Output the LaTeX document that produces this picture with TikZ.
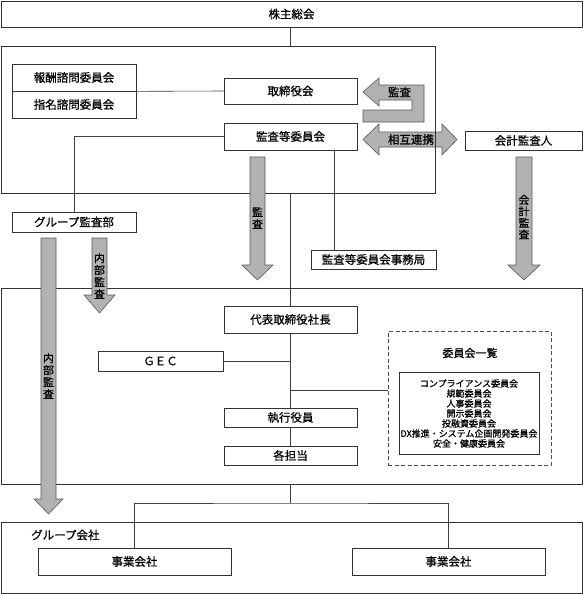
\documentclass[tikz,border=0pt]{standalone}
\usepackage{fontspec}
\setmainfont{Noto Sans CJK JP}[FakeBold=0.7]
\begin{document}
\begin{tikzpicture}[x=1pt,y=-1pt,
  box/.style={draw=black!80, line width=0.7pt, fill=white, inner sep=0pt, font=\fontsize{11.5}{13}\selectfont},
  frame/.style={draw=black!80, line width=0.7pt, inner sep=0pt},
  conn/.style={draw=black!75, line width=0.6pt},
  blk/.style={fill=black!30, draw=black!65, line width=0.6pt},
  vlab/.style={font=\fontsize{11}{12}\selectfont, align=center, inner sep=0pt},
  hlab/.style={font=\fontsize{11.5}{13}\selectfont, inner sep=0pt},
]
\useasboundingbox (0,0) rectangle (583,594);

% mutual cooperation arrow (below board frame line)
\draw[blk] (363,139.5) -- (379,124) -- (379,132) -- (442,132) -- (442,124) -- (457,139.5)
  -- (442,155) -- (442,147) -- (379,147) -- (379,155) -- cycle;
\node[hlab] (sogo) at (411,139.5) {相互連携};

% frames
\node[box, minimum width=581pt, minimum height=26pt] (kabu) at (291.5,14) {株主総会};
\node[frame, minimum width=434pt, minimum height=147pt] (board) at (218,119.5) {};
\node[frame, minimum width=581pt, minimum height=196pt] (exec) at (291.5,386) {};
\node[frame, minimum width=581pt, minimum height=71pt] (grp) at (291.5,557.5) {};

% boxes
\node[box, minimum width=124pt, minimum height=27pt] (houshu) at (74,77.5) {報酬諮問委員会};
\node[box, minimum width=124pt, minimum height=27pt] (shimei) at (74,104.5) {指名諮問委員会};
\node[box, minimum width=133pt, minimum height=26pt] (tori) at (290.5,91) {取締役会};
\node[box, minimum width=133pt, minimum height=27pt] (kansa) at (290.5,136.5) {監査等委員会};
\node[box, minimum width=117pt, minimum height=19pt] (kaikei) at (523.5,140.5) {会計監査人};
\node[box, minimum width=124pt, minimum height=20pt] (gaudit) at (74,222) {グループ監査部};
\node[box, minimum width=125pt, minimum height=19pt] (jimu) at (373.5,259.5) {監査等委員会事務局};
\node[box, minimum width=133pt, minimum height=27pt] (daihyo) at (290.5,319.5) {代表取締役社長};
\node[box, minimum width=125pt, minimum height=20pt] (gec) at (160.5,361) {ＧＥＣ};
\node[box, minimum width=133pt, minimum height=19pt] (shikkou) at (290.5,417.5) {執行役員};
\node[box, minimum width=133pt, minimum height=19pt] (kaku) at (290.5,455.5) {各担当};
\node[draw=black!70, dash pattern=on 4pt off 2.5pt, line width=0.7pt, inner sep=0pt,
  minimum width=163pt, minimum height=134pt] (iinkai) at (469.5,398) {};
\node[font=\fontsize{11}{12}\selectfont, inner sep=0pt] (ititle) at (470,353) {委員会一覧};
\node[box, minimum width=140pt, minimum height=82pt, align=center, font=\fontsize{9}{10}\selectfont]
  (ilist) at (469,413.5) {コンプライアンス委員会\\規範委員会\\人事委員会\\開示委員会\\投融資委員会\\DX推進・システム企画開発委員会\\安全・健康委員会};
\node[anchor=west, font=\fontsize{11.5}{13}\selectfont, inner sep=0pt] (glabel) at (31,535) {グループ会社};
\node[box, minimum width=193pt, minimum height=27pt] (jig1) at (134.5,561.5) {事業会社};
\node[box, minimum width=193pt, minimum height=27pt] (jig2) at (448.5,561.5) {事業会社};

% helper coordinates
\coordinate (jx) at (334,0);
\coordinate (cl) at (0,390);
\coordinate (br) at (290.5,503);

% connectors
\draw[conn] (daihyo.north |- kabu.south) -- (daihyo.north |- board.north);
\draw[conn] (houshu.south east) -- (tori.west);
\draw[conn] (kansa.west) -| (gaudit.north);
\draw[conn] (kansa.south -| jx) -- (jimu.north -| jx);
\draw[conn] (board.south -| daihyo.north) -- (daihyo.north);
\draw[conn] (daihyo.south) -- (shikkou.north);
\draw[conn] (shikkou.south) -- (kaku.north);
\draw[conn] (gec.east) -- (gec.east -| daihyo.south);
\draw[conn] (daihyo.south |- cl) -- (iinkai.west |- cl);
\draw[conn] (exec.south -| daihyo.south) -- (br);
\draw[conn] (jig1.north) |- (br) -| (jig2.north);

% U-shaped audit arrow
\draw[blk] (363,92) -- (379,78) -- (379,85) -- (424,85) -- (424,122) -- (363,122) -- (363,110)
  -- (412,110) -- (412,100) -- (379,100) -- (379,106) -- cycle;
\node[hlab] (kansa1) at (399.5,92) {監査};

% down arrows
\draw[blk] (250,157) -- (265,157) -- (265,265) -- (273,265) -- (257.5,280) -- (242,265) -- (250,265) -- cycle;
\node[vlab] (kansa2) at (257.5,218) {監\\査};

\draw[blk] (516,157) -- (532,157) -- (532,265) -- (540,265) -- (524,280) -- (508,265) -- (516,265) -- cycle;
\node[vlab, font=\fontsize{11}{11.5}\selectfont] (kansa3) at (524,217) {会\\計\\監\\査};

\draw[blk] (92,238) -- (107,238) -- (107,295) -- (115,295) -- (99.5,313) -- (84,295) -- (92,295) -- cycle;
\node[vlab] (naibu1) at (99.5,276) {内\\部\\監\\査};

\draw[blk] (41,238) -- (56,238) -- (56,499) -- (63,499) -- (48.5,514) -- (34,499) -- (41,499) -- cycle;
\node[vlab] (naibu2) at (48.5,376) {内\\部\\監\\査};
\end{tikzpicture}
\end{document}
